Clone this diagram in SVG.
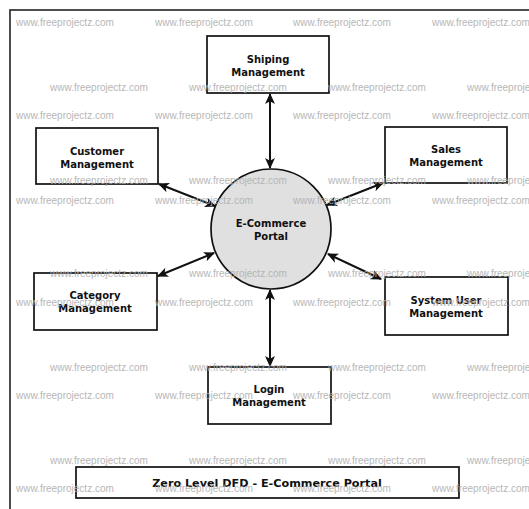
<svg xmlns="http://www.w3.org/2000/svg" width="529" height="509" viewBox="0 0 529 509">
<style>
.box{fill:#fff;stroke:#111;stroke-width:1.7}
.lbl{font-family:"DejaVu Sans",sans-serif;font-weight:bold;font-size:10px;fill:#111;text-anchor:middle}
.wm{font-family:"Liberation Sans",Arial,sans-serif;font-size:10px;fill:#b0b0b0}
.con{stroke:#111;stroke-width:2;fill:none;marker-start:url(#ah);marker-end:url(#ah)}
</style>
<defs>
<marker id="ah" viewBox="0 0 10 10" refX="9" refY="5" markerWidth="11" markerHeight="11" markerUnits="userSpaceOnUse" orient="auto-start-reverse">
<path d="M0,0.5 L10,5 L0,9.5 L2.5,5 Z" fill="#111"/>
</marker>
</defs>
<rect x="0" y="0" width="529" height="509" fill="#fff"/>
<rect x="10" y="10" width="530" height="510" fill="none" stroke="#222" stroke-width="1.6"/>
<g id="connectors">
<line class="con" x1="270" y1="94" x2="270" y2="168"/>
<line class="con" x1="159" y1="184" x2="215" y2="206"/>
<line class="con" x1="383" y1="183" x2="327" y2="205"/>
<line class="con" x1="158" y1="276" x2="214" y2="253"/>
<line class="con" x1="381" y1="279" x2="328" y2="254"/>
<line class="con" x1="270" y1="290" x2="270" y2="366"/>
</g>
<g id="portal">
<circle cx="271" cy="229" r="60" fill="#e0e0e0" stroke="#111" stroke-width="1.7"/>
<text class="lbl" x="271" y="227">E-Commerce</text>
<text class="lbl" x="271" y="240">Portal</text>
</g>
<g id="shipping">
<rect class="box" x="207" y="36" width="122" height="57"/>
<text class="lbl" x="268" y="63">Shiping</text>
<text class="lbl" x="268" y="76">Management</text>
</g>
<g id="customer">
<rect class="box" x="36" y="128" width="122" height="56"/>
<text class="lbl" x="97" y="155">Customer</text>
<text class="lbl" x="97" y="168">Management</text>
</g>
<g id="sales">
<rect class="box" x="385" y="127" width="122" height="56"/>
<text class="lbl" x="446" y="153">Sales</text>
<text class="lbl" x="446" y="166">Management</text>
</g>
<g id="category">
<rect class="box" x="34" y="273" width="123" height="57"/>
<text class="lbl" x="95" y="299">Category</text>
<text class="lbl" x="95" y="312">Management</text>
</g>
<g id="systemuser">
<rect class="box" x="385" y="277" width="123" height="58"/>
<text class="lbl" x="446" y="304">System User</text>
<text class="lbl" x="446" y="317">Management</text>
</g>
<g id="login">
<rect class="box" x="208" y="367" width="123" height="57"/>
<text class="lbl" x="269" y="393">Login</text>
<text class="lbl" x="269" y="406">Management</text>
</g>
<g id="title">
<rect class="box" x="76" y="467" width="383" height="31"/>
<text class="lbl" x="267" y="487" style="font-size:11.2px">Zero Level DFD - E-Commerce Portal</text>
</g>
<g id="watermarks" opacity="0.9">
<text class="wm" x="16" y="26">www.freeprojectz.com</text>
<text class="wm" x="155" y="26">www.freeprojectz.com</text>
<text class="wm" x="293" y="26">www.freeprojectz.com</text>
<text class="wm" x="432" y="26">www.freeprojectz.com</text>
<text class="wm" x="50" y="91">www.freeprojectz.com</text>
<text class="wm" x="189" y="91">www.freeprojectz.com</text>
<text class="wm" x="328" y="91">www.freeprojectz.com</text>
<text class="wm" x="467" y="91">www.freeprojectz.com</text>
<text class="wm" x="16" y="119">www.freeprojectz.com</text>
<text class="wm" x="155" y="119">www.freeprojectz.com</text>
<text class="wm" x="293" y="119">www.freeprojectz.com</text>
<text class="wm" x="432" y="119">www.freeprojectz.com</text>
<text class="wm" x="50" y="184">www.freeprojectz.com</text>
<text class="wm" x="189" y="184">www.freeprojectz.com</text>
<text class="wm" x="328" y="184">www.freeprojectz.com</text>
<text class="wm" x="467" y="184">www.freeprojectz.com</text>
<text class="wm" x="16" y="204">www.freeprojectz.com</text>
<text class="wm" x="155" y="204">www.freeprojectz.com</text>
<text class="wm" x="293" y="204">www.freeprojectz.com</text>
<text class="wm" x="432" y="204">www.freeprojectz.com</text>
<text class="wm" x="50" y="277">www.freeprojectz.com</text>
<text class="wm" x="189" y="277">www.freeprojectz.com</text>
<text class="wm" x="328" y="277">www.freeprojectz.com</text>
<text class="wm" x="467" y="277">www.freeprojectz.com</text>
<text class="wm" x="16" y="306">www.freeprojectz.com</text>
<text class="wm" x="155" y="306">www.freeprojectz.com</text>
<text class="wm" x="293" y="306">www.freeprojectz.com</text>
<text class="wm" x="432" y="306">www.freeprojectz.com</text>
<text class="wm" x="50" y="371">www.freeprojectz.com</text>
<text class="wm" x="189" y="371">www.freeprojectz.com</text>
<text class="wm" x="328" y="371">www.freeprojectz.com</text>
<text class="wm" x="467" y="371">www.freeprojectz.com</text>
<text class="wm" x="16" y="399">www.freeprojectz.com</text>
<text class="wm" x="155" y="399">www.freeprojectz.com</text>
<text class="wm" x="293" y="399">www.freeprojectz.com</text>
<text class="wm" x="432" y="399">www.freeprojectz.com</text>
<text class="wm" x="50" y="464">www.freeprojectz.com</text>
<text class="wm" x="189" y="464">www.freeprojectz.com</text>
<text class="wm" x="328" y="464">www.freeprojectz.com</text>
<text class="wm" x="467" y="464">www.freeprojectz.com</text>
<text class="wm" x="16" y="492">www.freeprojectz.com</text>
<text class="wm" x="155" y="492">www.freeprojectz.com</text>
<text class="wm" x="293" y="492">www.freeprojectz.com</text>
<text class="wm" x="432" y="492">www.freeprojectz.com</text>
</g>
</svg>
